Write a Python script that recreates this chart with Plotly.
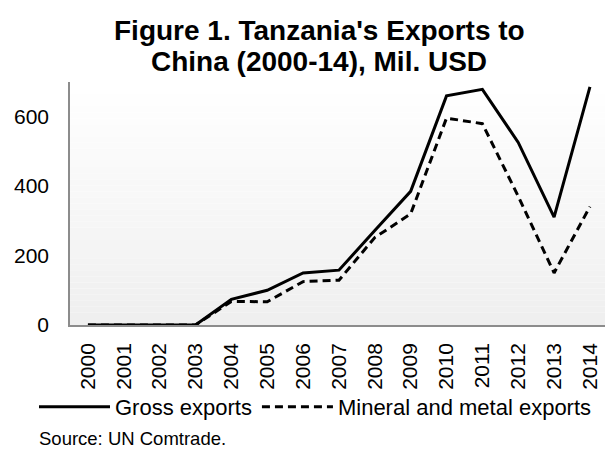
import plotly.graph_objects as go

years = list(range(2000, 2015))
year_labels = [str(y) for y in years]
gross_exports = [0, 0, 0, 0, 74, 100, 150, 158, 272, 385, 660, 679, 526, 311, 686]
mineral_exports = [0, 0, 0, 0, 68, 67, 125, 129, 252, 320, 596, 580, 371, 150, 341]
y_ticks = [0, 200, 400, 600]
title_lines = ["Figure 1. Tanzania's Exports to", "China (2000-14), Mil. USD"]
source_text = "Source: UN Comtrade."

FONT = "Liberation Sans, Arial, sans-serif"
W, H = 605, 457
L, R, T, B = 70, 0, 82, 132

fig = go.Figure()
fig.add_trace(go.Scatter(x=years, y=gross_exports, mode="lines", name="Gross exports",
                         line=dict(color="black", width=3)))
fig.add_trace(go.Scatter(x=years, y=mineral_exports, mode="lines", name="Mineral and metal exports",
                         line=dict(color="black", width=3, dash="8px,5px")))

# gradient plot background (white at top to light grey at bottom)
n = 40
for i in range(n):
    t = i / (n - 1)
    v = int(round(255 - t * 16))
    fig.add_shape(type="rect", xref="x domain", yref="y domain",
                  x0=0, x1=1, y0=1 - (i + 1) / n, y1=1 - i / n,
                  fillcolor=f"rgb({v},{v},{v})", line=dict(width=0), layer="below")

pw, ph = W - L - R, H - T - B
def px_x(x):
    return (x - L) / pw
def px_y(y):
    return (H - B - y) / ph

annots = []
for k, line in enumerate(title_lines):
    annots.append(dict(text=f"<b>{line}</b>", xref="paper", yref="paper",
                       x=px_x(319), y=px_y(31 + 30 * k), xanchor="center", yanchor="middle",
                       showarrow=False, font=dict(family=FONT, size=28, color="black")))
annots.append(dict(text=source_text, xref="paper", yref="paper",
                   x=px_x(37), y=px_y(438), xanchor="left", yanchor="middle", showarrow=False,
                   font=dict(family=FONT, size=18.5, color="black")))

fig.update_layout(
    width=W, height=H,
    margin=dict(l=L, r=R, t=T, b=B),
    paper_bgcolor="white", plot_bgcolor="white",
    font=dict(family=FONT, size=21, color="black"),
    showlegend=True,
    legend=dict(orientation="h", x=px_x(34), xanchor="left", y=px_y(407), yanchor="middle",
                itemwidth=71, font=dict(family=FONT, size=22), bgcolor="rgba(0,0,0,0)",
                tracegroupgap=0),
    annotations=annots,
)
fig.update_xaxes(range=[1999.5, 2014.42], tickmode="array", tickvals=years, ticktext=year_labels,
                 tickangle=-90, showgrid=False, zeroline=False, showline=True,
                 linecolor="#8c8c8c", linewidth=1.5, ticks="", tickfont=dict(size=21),
                 ticklabelstandoff=8, automargin=False)
fig.update_yaxes(range=[0, 700], tickmode="array", tickvals=y_ticks, showgrid=False,
                 zeroline=False, showline=True, linecolor="#8c8c8c", linewidth=1.5,
                 ticks="", ticklabelstandoff=15, tickfont=dict(size=21), automargin=False)

fig.write_html("out.html", config={"displayModeBar": False},
               post_script="document.body.style.margin='0';")
